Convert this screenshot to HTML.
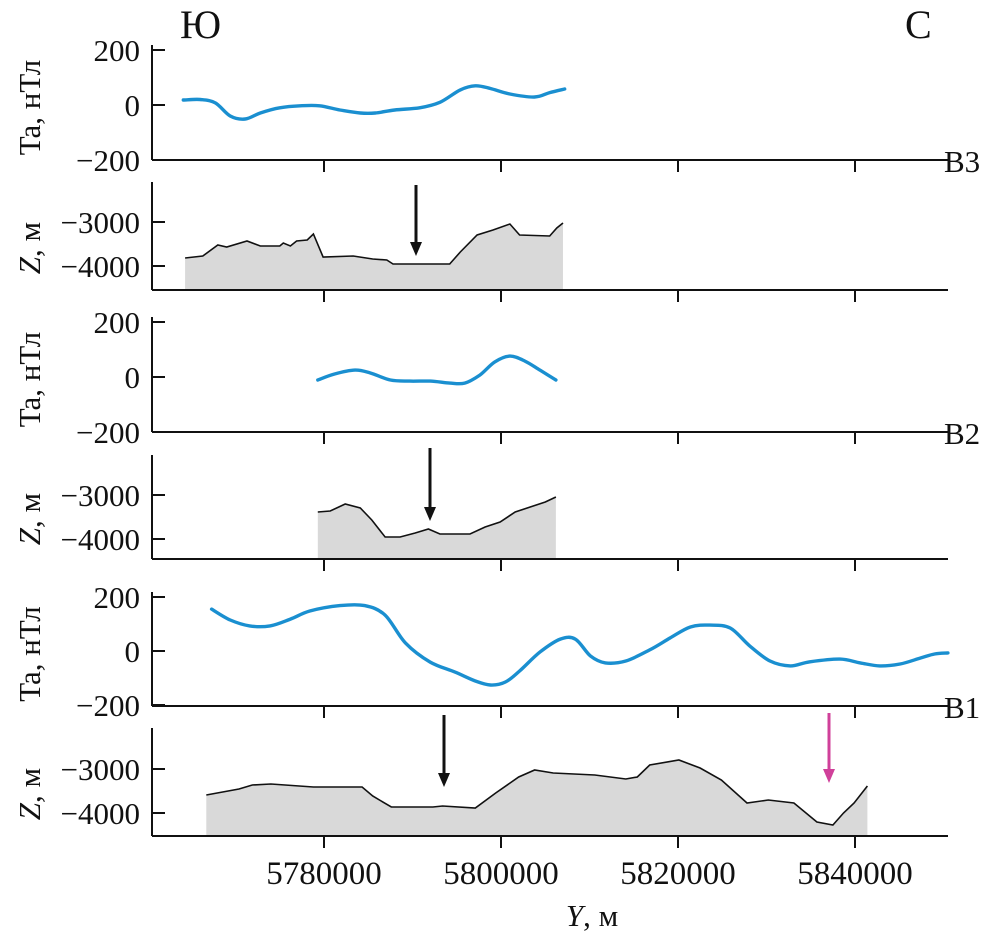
<!DOCTYPE html>
<html><head><meta charset="utf-8"><style>
body{margin:0;background:#fff}
svg{display:block}
text{font-family:"Liberation Serif",serif;fill:#111}
</style></head><body>
<svg id="c" width="996" height="936"></svg>
<script>
const xTicks=[5780,5800,5820,5840];
const xTickLabels=["5780000","5800000","5820000","5840000"];
const b3TaY=[5764.1,5766,5767.7,5769.4,5771.1,5772.8,5775,5777.3,5779.5,5781.8,5784.1,5785.8,5788,5790.8,5793.1,5795.4,5797.1,5798.8,5801,5803.8,5805.5,5807.2];
const b3Ta=[18,20,8,-40,-51,-29,-10,-3,-3,-18,-29,-29,-18,-10,10,55,70,60,40,29,45,58];
const b3ZY=[5764.3,5766.3,5768,5769,5771.3,5772.8,5775,5775.4,5776.2,5776.9,5778.1,5778.8,5779.9,5783.3,5785.5,5787.1,5787.8,5794.2,5795.4,5797.3,5799.1,5801,5802.1,5805.5,5806.3,5807];
const b3Z=[-3818,-3773,-3523,-3568,-3432,-3545,-3545,-3477,-3545,-3432,-3409,-3273,-3795,-3773,-3841,-3864,-3955,-3955,-3682,-3295,-3182,-3045,-3295,-3318,-3136,-3023];
const b2TaY=[5779.3,5781.2,5783.5,5785.2,5787.5,5789.7,5792,5794.2,5795.9,5797.6,5799.3,5801,5802.7,5804.4,5806.2];
const b2Ta=[-11,11,25,15,-11,-15,-15,-22,-22,7,55,76,58,25,-11];
const b2ZY=[5779.3,5780.7,5782.4,5784.1,5785.4,5786.9,5788.6,5790.3,5791.8,5793.1,5796.5,5798.2,5799.9,5801.6,5803.3,5805,5806.2];
const b2Z=[-3386,-3364,-3204,-3295,-3568,-3955,-3955,-3864,-3773,-3886,-3886,-3727,-3614,-3386,-3273,-3159,-3045];
const b1TaY=[5767.3,5769.4,5771.6,5773.9,5776.2,5778.4,5781.8,5784.6,5786.9,5789.2,5792,5794.8,5797.1,5798.8,5800.5,5802.1,5804.4,5806.7,5808.4,5810.1,5811.8,5814.1,5816.8,5819.1,5821.4,5823.6,5825.9,5828.1,5830.4,5832.7,5834.9,5838.3,5840.6,5842.8,5845.1,5847.4,5849,5850.5];
const b1Ta=[155,115,93,93,118,148,168,168,133,30,-41,-78,-111,-126,-115,-74,-4,44,44,-18,-44,-37,4,48,89,96,85,19,-37,-55,-40,-30,-44,-55,-48,-26,-11,-7];
const b1ZY=[5766.7,5770.4,5771.9,5774,5778.8,5784.3,5785.5,5787.6,5792.3,5793.4,5797.1,5799.4,5802,5803.8,5805.9,5810.6,5814.1,5815.4,5816.8,5820.1,5822.5,5824.9,5827.8,5830.2,5833.1,5835.7,5837.5,5838.7,5839.9,5841.4];
const b1Z=[-3591,-3455,-3364,-3341,-3409,-3409,-3614,-3864,-3864,-3841,-3886,-3545,-3182,-3023,-3091,-3136,-3227,-3182,-2909,-2796,-2977,-3250,-3773,-3705,-3773,-4205,-4273,-4000,-3773,-3386];
const taTicks=[200,0,-200];
const zTicks=[-3000,-4000];

const svg=document.getElementById('c');
const NS='http://www.w3.org/2000/svg';
function el(t,a,p){const e=document.createElementNS(NS,t);for(const k in a)e.setAttribute(k,a[k]);(p||svg).appendChild(e);return e;}
const X=v=>324+(v-5780)*177/20;
const L=152,R=948;
function smooth(P){
  let d='M'+P[0][0].toFixed(1)+','+P[0][1].toFixed(1);
  for(let i=0;i<P.length-1;i++){
    const p0=P[Math.max(0,i-1)],p1=P[i],p2=P[i+1],p3=P[Math.min(P.length-1,i+2)];
    const c1=[p1[0]+(p2[0]-p0[0])/6,p1[1]+(p2[1]-p0[1])/6];
    const c2=[p2[0]-(p3[0]-p1[0])/6,p2[1]-(p3[1]-p1[1])/6];
    d+='C'+c1.map(v=>v.toFixed(1))+' '+c2.map(v=>v.toFixed(1))+' '+p2.map(v=>v.toFixed(1));
  }
  return d;
}
function axes(top,bottom){
  el('line',{x1:L,y1:top,x2:L,y2:bottom,stroke:'#111','stroke-width':2});
  el('line',{x1:L,y1:bottom,x2:R,y2:bottom,stroke:'#111','stroke-width':2});
  xTicks.forEach(t=>el('line',{x1:X(t),y1:bottom,x2:X(t),y2:bottom+12,stroke:'#111','stroke-width':2}));
}
function yLabel(txt,cy,italicZ){
  const t=el('text',{x:0,y:0,'font-size':31,'text-anchor':'middle',transform:`translate(40,${cy}) rotate(-90)`});
  
  
  if(italicZ){const a=el('tspan',{'font-style':'italic'},t);a.textContent='Z';const b=el('tspan',{},t);b.textContent=', м';}
  else t.textContent=txt;
}
function tickLabel(x,y,s){
  const tx=el('text',{x:x,y:y,'font-size':31,'text-anchor':'end'});tx.textContent=s;
  
  
}
function taPanel(name,y0,ppu,top,bottom,ys,vals,lbl){
  axes(top,bottom);
  const Y=v=>y0-v*ppu;
  taTicks.forEach(t=>{
    el('line',{x1:L,y1:Y(t),x2:L+13,y2:Y(t),stroke:'#111','stroke-width':2});
    tickLabel(L-12,Y(t)+11,(t<0?'−':'')+Math.abs(t));
  });
  const p=el('path',{d:smooth(ys.map((v,i)=>[X(v),Y(vals[i])])),fill:'none',stroke:'#1a8fd0','stroke-width':3.4,'stroke-linejoin':'round','stroke-linecap':'round'});
  
  
  yLabel('Ta, нТл',(top+bottom)/2+5,false);
  const l=el('text',{x:944,y:bottom+12,'font-size':31});l.textContent=lbl;
  
  
}
function zPanel(name,y3000,ppk,top,bottom,ys,vals){
  axes(top,bottom);
  const Y=v=>y3000+(-3000-v)*ppk/1000;
  const pts=ys.map((v,i)=>X(v).toFixed(1)+','+Y(vals[i]).toFixed(1));
  const f=el('path',{d:'M'+X(ys[0])+','+(bottom-1)+'L'+pts.join('L')+'L'+X(ys[ys.length-1])+','+(bottom-1)+'Z',fill:'#d9d9d9',stroke:'none'});
  
  
  const p=el('path',{d:'M'+pts.join('L'),fill:'none',stroke:'#111','stroke-width':1.6});
  
  
  zTicks.forEach(t=>{
    el('line',{x1:L,y1:Y(t),x2:L+13,y2:Y(t),stroke:'#111','stroke-width':2});
    tickLabel(L-12,Y(t)+11,'−'+Math.abs(t));
  });
  yLabel('',(top+bottom)/2+12,true);
}
function arrow(x,y1,y2,c,name){
  const g=el('g',{});
  
  
  el('line',{x1:x,y1:y1,x2:x,y2:y2-10,stroke:c,'stroke-width':3},g);
  el('path',{d:`M${x-6},${y2-14}L${x+6},${y2-14}L${x},${y2}Z`,fill:c},g);
}
taPanel('b3',105,55/200,45,160,b3TaY,b3Ta,'В3');
zPanel('b3',222,44,182,290,b3ZY,b3Z);
taPanel('b2',377,55/200,317,432,b2TaY,b2Ta,'В2');
zPanel('b2',495,44,455,559,b2ZY,b2Z);
taPanel('b1',651,54/200,592,706,b1TaY,b1Ta,'В1');
zPanel('b1',769,44,728,836,b1ZY,b1Z);
arrow(416,185,256,'#111','b3-arrow');
arrow(430,448,521,'#111','b2-arrow');
arrow(444,715,787,'#111','b1-arrow');
arrow(829,713,783,'#d0409a','b1-pink-arrow');
xTicks.forEach((t,i)=>{const tx=el('text',{x:X(t),y:884,'font-size':33,'text-anchor':'middle'});tx.textContent=xTickLabels[i];
  
  });
const xt=el('text',{x:592,y:926,'font-size':31,'text-anchor':'middle'});


const a=el('tspan',{'font-style':'italic'},xt);a.textContent='Y';const b=el('tspan',{},xt);b.textContent=', м';
const s=el('text',{x:180,y:38,'font-size':40});s.textContent='Ю';


const n=el('text',{x:905,y:38,'font-size':40});n.textContent='С';


</script>
</body></html>
